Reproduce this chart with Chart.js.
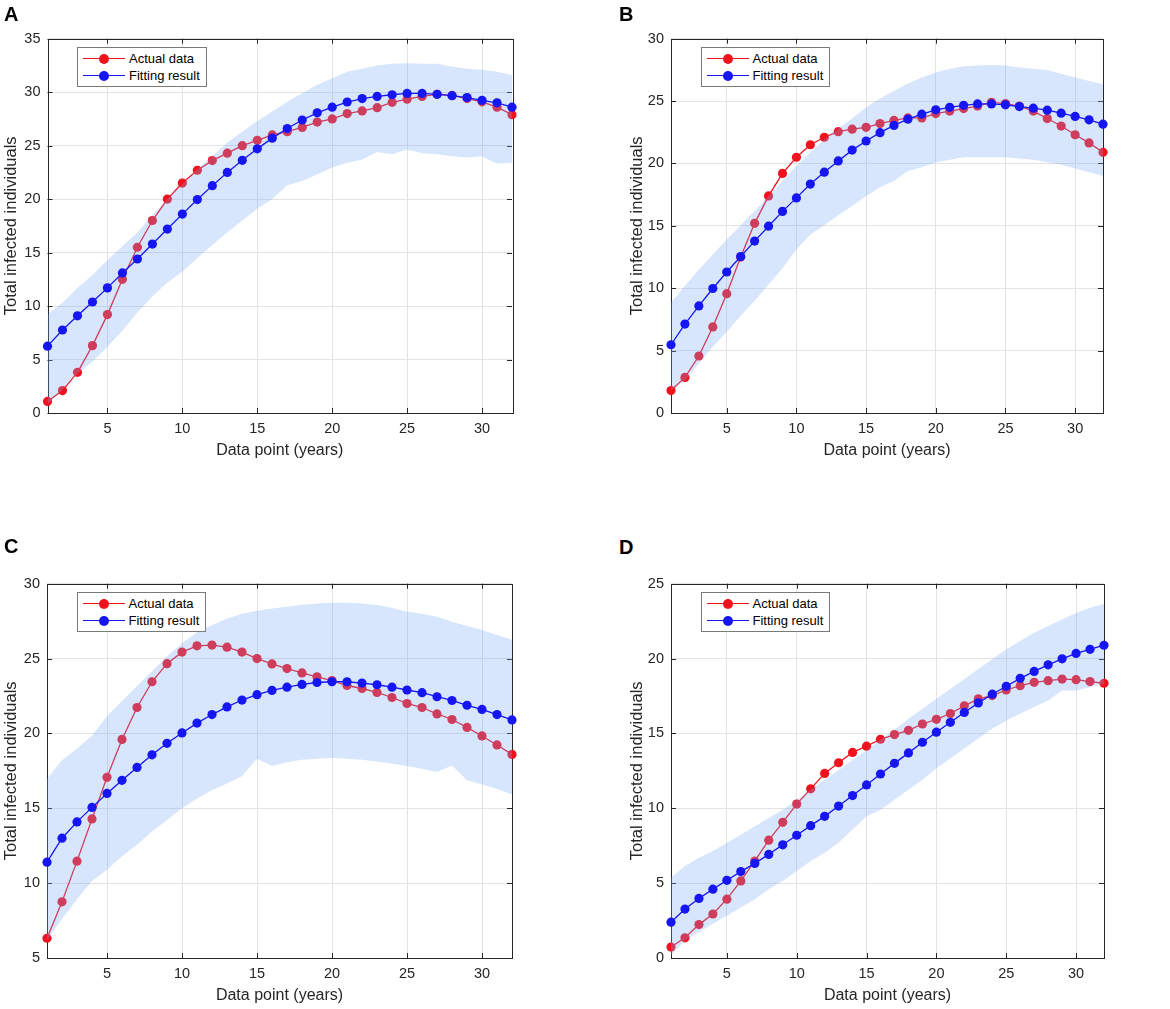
<!DOCTYPE html>
<html>
<head>
<meta charset="utf-8">
<title>Total infected individuals - fitting</title>
<script src="https://cdn.jsdelivr.net/npm/chart.js@4.4.1/dist/chart.umd.min.js"></script>
<style>
    body { margin: 0; background: #fff; width: 1170px; height: 1009px; position: relative; overflow: hidden;
           font-family: 'Liberation Sans', Arial, sans-serif; }
    .panel { position: absolute; }
    .tag { position: absolute; font-weight: bold; font-size: 20px; line-height: 20px; color: #000; }
    .legend { position: absolute; background: #fff; border: 1px solid #7a7a7a; padding: 2px 6px 2px 5px;
              font-size: 13px; line-height: 17px; color: #000; }
    .legend .row { display: flex; align-items: center; white-space: nowrap; }
    .legend .swatch { position: relative; width: 42px; height: 1.4px; margin-right: 4px; }
    .legend .swatch::after { content: ''; position: absolute; left: 16px; top: -4.3px; width: 10px; height: 10px;
                             border-radius: 50%; background: inherit; }
</style>
</head>
<body>
<script>
// ===== DATA =====
const dataPoints = [1, 2, 3, 4, 5, 6, 7, 8, 9, 10, 11, 12, 13, 14, 15, 16,
                    17, 18, 19, 20, 21, 22, 23, 24, 25, 26, 27, 28, 29, 30, 31, 32];
const xTicks = [5, 10, 15, 20, 25, 30];

// Panel A
const aActual = [1.08, 2.1, 3.8, 6.3, 9.2, 12.5, 15.5, 18.0, 20.0, 21.5, 22.7, 23.6, 24.3, 25.0, 25.5, 26.0,
                 26.3, 26.7, 27.2, 27.5, 28.0, 28.25, 28.55, 29.05, 29.35, 29.6, 29.8, 29.7, 29.4, 29.1, 28.6, 27.9];
const aFit = [6.25, 7.76, 9.09, 10.38, 11.7, 13.1, 14.4, 15.8, 17.2, 18.6, 19.96, 21.26, 22.5, 23.63, 24.7, 25.7,
              26.6, 27.4, 28.07, 28.6, 29.08, 29.4, 29.6, 29.76, 29.88, 29.88, 29.8, 29.67, 29.5, 29.24, 29.0, 28.6];
const aUpper = [9.24, 10.3, 11.7, 12.9, 14.3, 15.6, 16.9, 18.5, 20.0, 21.4, 22.8, 24.0, 25.3, 26.3, 27.3, 28.2,
                29.1, 29.9, 30.7, 31.3, 31.9, 32.2, 32.5, 32.65, 32.7, 32.65, 32.65, 32.4, 32.2, 32.1, 31.9, 31.6];
const aLower = [0.8, 2.2, 3.7, 4.8, 6.2, 7.7, 9.4, 10.9, 12.2, 13.2, 14.5, 15.7, 16.9, 18.0, 19.1, 20.0,
                21.3, 21.7, 22.3, 22.95, 23.4, 23.7, 24.4, 24.2, 24.65, 24.3, 24.2, 24.0, 23.9, 24.0, 23.3, 23.4];

// Panel B
const bActual = [1.8, 2.85, 4.57, 6.9, 9.56, 12.5, 15.2, 17.4, 19.2, 20.5, 21.5, 22.1, 22.55, 22.75, 22.9, 23.2,
                 23.45, 23.65, 23.65, 24.0, 24.2, 24.4, 24.6, 24.9, 24.8, 24.6, 24.2, 23.6, 23.0, 22.3, 21.65, 20.9];
const bFit = [5.47, 7.13, 8.58, 9.98, 11.3, 12.54, 13.78, 14.97, 16.16, 17.24, 18.35, 19.3, 20.2, 21.07, 21.8, 22.47,
              23.05, 23.55, 23.95, 24.3, 24.5, 24.66, 24.77, 24.77, 24.7, 24.56, 24.43, 24.27, 24.03, 23.77, 23.5, 23.15];
const bUpper = [8.85, 10.2, 11.5, 12.7, 13.9, 15.05, 16.2, 17.4, 18.6, 19.8, 20.9, 21.9, 22.8, 23.6, 24.5, 25.2,
                25.8, 26.4, 26.9, 27.3, 27.6, 27.8, 27.85, 27.9, 27.85, 27.7, 27.6, 27.5, 27.2, 26.9, 26.6, 26.35];
const bLower = [1.85, 2.6, 3.96, 5.3, 6.5, 7.8, 9.0, 10.3, 11.6, 13.1, 14.3, 15.05, 15.85, 16.6, 17.4, 18.1,
                18.6, 19.4, 19.7, 20.07, 20.3, 20.5, 20.5, 20.5, 20.5, 20.4, 20.3, 20.1, 19.9, 19.6, 19.3, 19.0];

// Panel C
const cActual = [6.32, 8.75, 11.47, 14.29, 17.07, 19.6, 21.73, 23.45, 24.66, 25.43, 25.85, 25.9, 25.76, 25.43, 25.0, 24.64,
                 24.33, 24.04, 23.78, 23.53, 23.2, 23.0, 22.74, 22.4, 22.0, 21.73, 21.3, 20.93, 20.4, 19.83, 19.23, 18.6];
const cFit = [11.4, 13.0, 14.09, 15.06, 15.99, 16.87, 17.73, 18.57, 19.34, 20.03, 20.69, 21.26, 21.77, 22.23, 22.59, 22.87,
              23.09, 23.27, 23.4, 23.45, 23.45, 23.36, 23.25, 23.09, 22.9, 22.72, 22.45, 22.2, 21.88, 21.6, 21.26, 20.9];
const cUpper = [16.98, 18.2, 19.0, 19.85, 21.17, 22.17, 23.16, 24.15, 25.15, 26.03, 26.76, 27.24, 27.68, 28.0, 28.2, 28.35,
                28.46, 28.6, 28.68, 28.72, 28.72, 28.68, 28.57, 28.39, 28.12, 28.0, 27.8, 27.46, 27.17, 26.9, 26.58, 26.25];
const cLower = [6.17, 7.6, 8.93, 10.14, 10.9, 11.8, 12.57, 13.45, 14.22, 15.0, 15.66, 16.2, 16.65, 17.14, 18.3, 17.82,
                18.08, 18.24, 18.3, 18.35, 18.3, 18.24, 18.13, 17.97, 17.82, 17.64, 17.42, 17.86, 16.87, 16.58, 16.28, 15.92];

// Panel D
const dActual = [0.73, 1.35, 2.23, 2.94, 3.93, 5.15, 6.48, 7.87, 9.06, 10.28, 11.3, 12.33, 13.04, 13.73, 14.15, 14.61,
                 14.92, 15.21, 15.63, 15.94, 16.33, 16.84, 17.31, 17.53, 17.9, 18.19, 18.41, 18.52, 18.63, 18.59, 18.46, 18.35];
const dFit = [2.39, 3.27, 3.98, 4.6, 5.19, 5.77, 6.32, 6.92, 7.56, 8.2, 8.84, 9.46, 10.15, 10.85, 11.56, 12.29,
              13.0, 13.7, 14.41, 15.08, 15.74, 16.4, 17.04, 17.62, 18.15, 18.68, 19.14, 19.58, 19.98, 20.34, 20.62, 20.89];
const dUpper = [5.37, 6.14, 6.7, 7.14, 7.69, 8.24, 8.8, 9.35, 9.9, 10.57, 11.23, 11.9, 12.56, 13.22, 13.88, 14.59,
                15.27, 15.98, 16.64, 17.31, 17.97, 18.63, 19.3, 19.96, 20.62, 21.18, 21.73, 22.17, 22.61, 23.05, 23.39, 23.65];
const dLower = [0.18, 1.17, 1.72, 2.28, 2.83, 3.38, 3.93, 4.6, 5.15, 5.81, 6.48, 7.03, 7.69, 8.58, 9.46, 9.9,
                10.57, 11.23, 11.9, 12.67, 13.33, 13.99, 14.66, 15.32, 15.87, 16.31, 16.76, 17.2, 17.86, 17.86, 18.08, 18.3];

// ===== STYLE =====
const RED = 'rgb(242, 18, 30)';
const BLUE = 'rgb(22, 22, 245)';
const BAND = 'rgba(116, 170, 245, 0.29)';
const INK = '#262626';

Chart.defaults.font.family = "'Liberation Sans', Arial, sans-serif";
Chart.defaults.color = INK;

// khung hop + vach chia ben trong (kieu MATLAB)
const frameBox = {
    id: 'frameBox',
    beforeDatasetsDraw(chart) {
        const { ctx, chartArea: a, scales } = chart;
        ctx.save();
        ctx.strokeStyle = INK;
        ctx.lineWidth = 1;
        ctx.beginPath();
        scales.x.ticks.forEach(function (t) {
            const px = Math.round(scales.x.getPixelForValue(t.value)) + 0.5;
            ctx.moveTo(px, a.bottom); ctx.lineTo(px, a.bottom - 5);
            ctx.moveTo(px, a.top); ctx.lineTo(px, a.top + 5);
        });
        scales.y.ticks.forEach(function (t) {
            const py = Math.round(scales.y.getPixelForValue(t.value)) + 0.5;
            ctx.moveTo(a.left, py); ctx.lineTo(a.left + 5, py);
            ctx.moveTo(a.right, py); ctx.lineTo(a.right - 5, py);
        });
        ctx.stroke();
        ctx.strokeRect(Math.round(a.left) + 0.5, Math.round(a.top) + 0.5, Math.round(a.width), Math.round(a.height));
        ctx.restore();
    }
};

function pts(values) {
    return dataPoints.map(function (x, i) { return { x: x, y: values[i] }; });
}

function addText(cls, text, left, top) {
    const el = document.createElement('div');
    el.className = cls;
    el.textContent = text;
    el.style.left = left + 'px';
    el.style.top = top + 'px';
    document.body.appendChild(el);
}

function addLegend(left, top) {
    const box = document.createElement('div');
    box.className = 'legend';
    box.style.left = left + 'px';
    box.style.top = top + 'px';
    [['Actual data', RED], ['Fitting result', BLUE]].forEach(function (item) {
        const row = document.createElement('div');
        row.className = 'row';
        const sw = document.createElement('span');
        sw.className = 'swatch';
        sw.style.background = item[1];
        const tx = document.createElement('span');
        tx.textContent = item[0];
        row.appendChild(sw);
        row.appendChild(tx);
        box.appendChild(row);
    });
    document.body.appendChild(box);
}

function buildPanel(p) {
    const padTop = 12, padRight = 14, padBottom = 3, xAxisH = 47;
    const holder = document.createElement('div');
    holder.className = 'panel';
    holder.style.left = p.canvasLeft + 'px';
    holder.style.top = (p.plotTop - padTop) + 'px';
    holder.style.width = (p.plotRight + padRight - p.canvasLeft) + 'px';
    holder.style.height = (p.plotBottom - p.plotTop + padTop + xAxisH + padBottom) + 'px';
    const canvas = document.createElement('canvas');
    holder.appendChild(canvas);
    document.body.appendChild(holder);

    const lineSet = function (label, values, color, order) {
        return {
            label: label, data: pts(values), order: order,
            borderColor: color, backgroundColor: color, borderWidth: 1.3,
            pointRadius: 4.6, pointBorderWidth: 0, pointBackgroundColor: color,
            fill: false, clip: false, tension: 0
        };
    };

    new Chart(canvas.getContext('2d'), {
        type: 'line',
        data: {
            datasets: [
                lineSet('Fitting result', p.fit, BLUE, 0),
                { label: 'upper', data: pts(p.upper), order: 1, borderWidth: 0, pointRadius: 0,
                  fill: '+1', backgroundColor: BAND, borderColor: 'rgba(0,0,0,0)' },
                { label: 'lower', data: pts(p.lower), order: 2, borderWidth: 0, pointRadius: 0,
                  fill: false, borderColor: 'rgba(0,0,0,0)' },
                lineSet('Actual data', p.actual, RED, 3)
            ]
        },
        options: {
            responsive: true,
            maintainAspectRatio: false,
            animation: false,
            events: [],
            layout: { padding: { left: 0, top: padTop, right: padRight, bottom: padBottom } },
            plugins: { legend: { display: false }, tooltip: { enabled: false } },
            scales: {
                x: {
                    type: 'linear', min: 1, max: 32,
                    afterBuildTicks: function (scale) {
                        scale.ticks = xTicks.map(function (v) { return { value: v }; });
                    },
                    afterFit: function (scale) { scale.height = xAxisH; },
                    grid: { color: '#e3e3e3', drawTicks: false },
                    border: { display: false },
                    ticks: { padding: 7, font: { size: 14.5 }, color: INK, maxRotation: 0 },
                    title: { display: true, text: 'Data point (years)', font: { size: 16 },
                             color: INK, padding: { top: 0, bottom: 0 } }
                },
                y: {
                    min: p.yMin, max: p.yMax,
                    afterFit: function (scale) { scale.width = p.plotLeft - p.canvasLeft; },
                    grid: { color: '#e3e3e3', drawTicks: false },
                    border: { display: false },
                    ticks: { stepSize: 5, padding: 7, font: { size: 14.5 }, color: INK },
                    title: { display: true, text: 'Total infected individuals', font: { size: 16.5 },
                             color: INK, padding: { top: 2, bottom: 0 } }
                }
            }
        },
        plugins: [frameBox]
    });

    addLegend(p.plotLeft + 29.5, p.plotTop + 12);
    addText('tag', p.tag, p.tagLeft, p.tagTop);
}

// ===== KHOI TAO =====
buildPanel({ tag: 'A', tagLeft: 4, tagTop: 4, canvasLeft: 0, plotLeft: 47.5, plotRight: 512, plotTop: 35, plotBottom: 413,
             yMin: 0, yMax: 35, actual: aActual, fit: aFit, upper: aUpper, lower: aLower });
buildPanel({ tag: 'B', tagLeft: 619, tagTop: 4, canvasLeft: 626, plotLeft: 671, plotRight: 1103, plotTop: 35, plotBottom: 413,
             yMin: 0, yMax: 30, actual: bActual, fit: bFit, upper: bUpper, lower: bLower });
buildPanel({ tag: 'C', tagLeft: 4, tagTop: 536, canvasLeft: 0, plotLeft: 47, plotRight: 512, plotTop: 580, plotBottom: 958,
             yMin: 5, yMax: 30, actual: cActual, fit: cFit, upper: cUpper, lower: cLower });
buildPanel({ tag: 'D', tagLeft: 619, tagTop: 537, canvasLeft: 626, plotLeft: 671, plotRight: 1104, plotTop: 580, plotBottom: 958,
             yMin: 0, yMax: 25, actual: dActual, fit: dFit, upper: dUpper, lower: dLower });
</script>
</body>
</html>
